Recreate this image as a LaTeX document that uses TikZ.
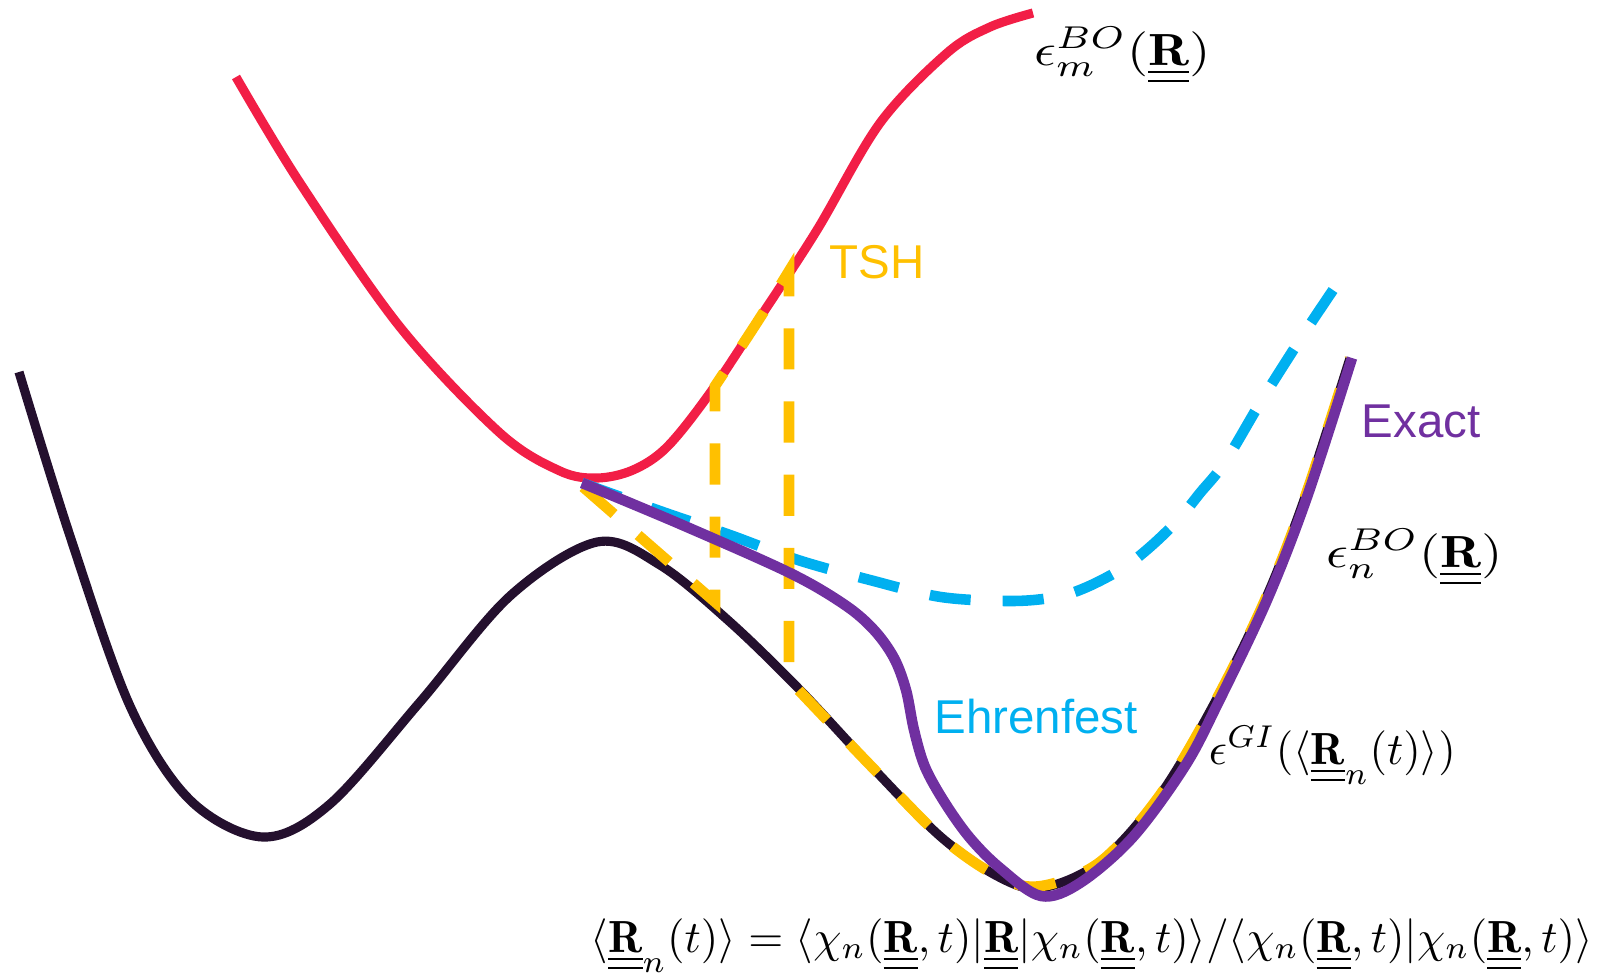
\documentclass[tikz,border=0pt]{standalone}
\usepackage{fontspec}
\newfontfamily\arialfont{Liberation Sans}
\definecolor{cred}{RGB}{242,30,70}
\definecolor{cdark}{RGB}{36,16,46}
\definecolor{cyel}{RGB}{255,192,0}
\definecolor{ccyan}{RGB}{0,176,240}
\definecolor{cpurp}{RGB}{112,48,160}
\newcommand{\RR}{\underline{\underline{\mathbf{R}}}}
\tikzset{
  pes/.style={line width=2.6pt, line cap=butt, line join=round},
  dashpes/.style={line width=3pt, line cap=butt, line join=miter, dash pattern=on 11.7pt off 9.1pt},
  exactpes/.style={line width=3pt, line cap=butt, line join=round},
  mathlbl/.style={anchor=base west, inner sep=0pt, scale=1.28},
  widelbl/.style={anchor=base west, inner sep=0pt, scale=1.28, xscale=1.2},
  sanslbl/.style={anchor=base west, inner sep=0pt, font=\arialfont\fontsize{13.5}{16}\selectfont},
}
\begin{document}
\begin{tikzpicture}[x=0.01cm, y=-0.01cm]
\useasboundingbox (0,0) rectangle (1601,972);
% lower BO surface
\draw[pes, cdark] plot[smooth, tension=0.55] coordinates {(19,372) (70,536) (130,706) (190,800) (263,837) (330,804) (420,702) (510,596) (597,542) (660,565) (730,622) (800,690) (870,765) (941,837) (999,877) (1041,888) (1100,862) (1160,795) (1215,702) (1265,600) (1305,497) (1350,358)};
% upper BO surface
\draw[pes, cred] plot[smooth, tension=0.55] coordinates {(236,77) (300,183) (400,327) (500,433) (560,471) (597,478) (633,470) (667,447) (710,393) (763,313) (817,230) (880,123) (947,53) (990,27) (1033,13)};
% Ehrenfest
\draw[dashpes, ccyan] plot[smooth, tension=0.55] coordinates {(582,483) (660,511) (730,535) (798,560) (870,580) (941,597) (1011,601) (1056,597) (1087,587) (1123,568) (1150,547) (1178,520) (1200,493) (1225,462) (1263,398) (1303,335) (1333,290)};
% TSH
\draw[dashpes, cyel] (583,487) -- (715,602) -- (715,386)
  -- plot[smooth, tension=0.55] coordinates {(715,386) (737,353) (763,313) (789,271)}
  -- (789,680)
  -- plot[smooth, tension=0.55] coordinates {(789,680) (870,765) (941,837) (999,877) (1041,886) (1100,862) (1160,795) (1215,702) (1265,600) (1305,497) (1350,358)};
% Exact
\draw[exactpes, cpurp] plot[smooth, tension=0.55] coordinates {(582,483) (680,524) (790,573) (845,605) (874,630) (894,658) (906,690) (914,730) (925,767) (945,803) (970,838) (1000,868) (1041,896) (1080,883) (1133,837) (1185,766) (1218,703) (1267,600) (1307,497) (1352,358)};
% labels
\node[widelbl] (epsm) at (1033,65) {$\epsilon_m^{BO}(\RR)$};
\node[widelbl] (epsn) at (1325,567) {$\epsilon_n^{BO}(\RR)$};
\node[mathlbl] (epsgi) at (1208,764) {$\epsilon^{GI}(\langle\RR_n(t)\rangle)$};
\node[mathlbl] (meanr) at (590,952) {$\langle\RR_n(t)\rangle=\langle\chi_n(\RR,t)|\RR|\chi_n(\RR,t)\rangle/\langle\chi_n(\RR,t)|\chi_n(\RR,t)\rangle$};
\node[sanslbl, text=cyel] (tsh) at (829,278) {TSH};
\node[sanslbl, text=cpurp] (exact) at (1361,437) {Exact};
\node[sanslbl, text=ccyan] (ehr) at (934,733) {Ehrenfest};
\end{tikzpicture}
\end{document}
